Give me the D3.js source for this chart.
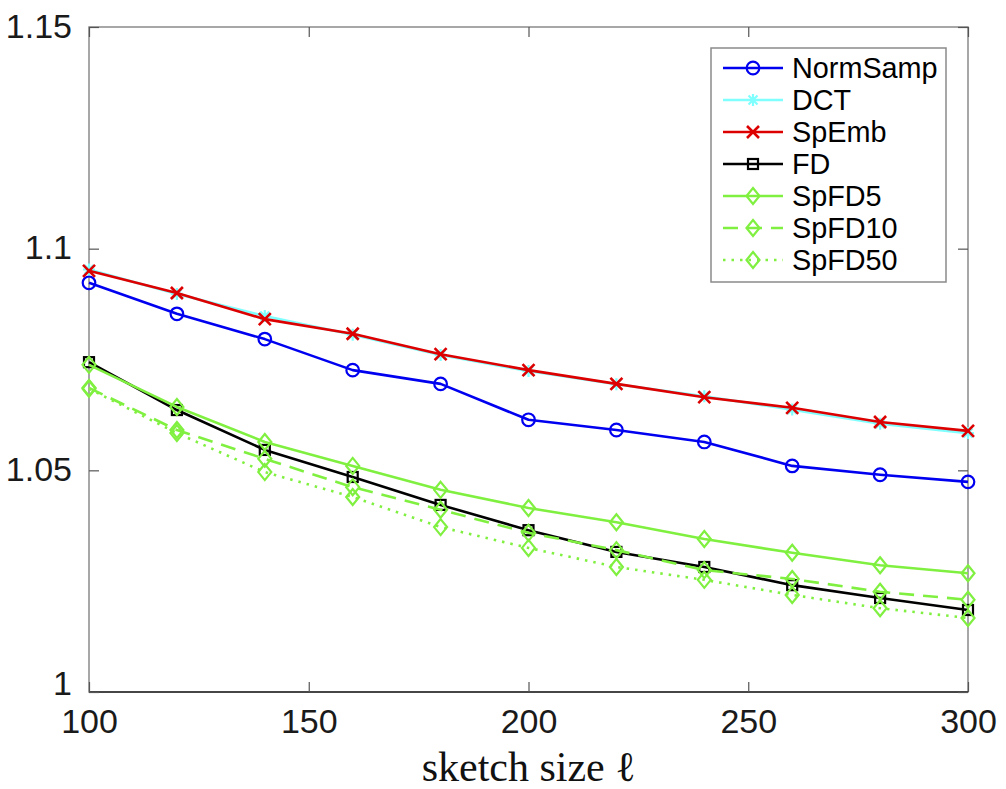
<!DOCTYPE html>
<html><head><meta charset="utf-8">
<script src="https://cdn.jsdelivr.net/npm/d3@7"></script>
<style>body{margin:0;background:#fff}</style>
</head><body><svg id="c" width="1006" height="789"></svg>
<script>
const sketchSizes = [100,120,140,160,180,200,220,240,260,280,300];
const normSamp = [1.0923,1.0853,1.0796,1.0726,1.0695,1.0614,1.0591,1.0564,1.0510,1.0490,1.0474];
const dct      = [1.0953,1.0898,1.0848,1.0806,1.0760,1.0724,1.0694,1.0667,1.0637,1.0605,1.0584];
const spEmb    = [1.0950,1.0900,1.0841,1.0808,1.0762,1.0726,1.0695,1.0665,1.0641,1.0609,1.0589];
const fd       = [1.0744,1.0636,1.0546,1.0485,1.0422,1.0365,1.0316,1.0282,1.0241,1.0212,1.0185];
const spFD5    = [1.0738,1.0643,1.0564,1.0510,1.0456,1.0415,1.0383,1.0345,1.0314,1.0286,1.0268];
const spFD10   = [1.0686,1.0591,1.0526,1.0462,1.0411,1.0359,1.0320,1.0275,1.0255,1.0226,1.0208];
const spFD50   = [1.0684,1.0584,1.0496,1.0440,1.0372,1.0325,1.0282,1.0253,1.0219,1.0189,1.0167];
const xTicks = [100,150,200,250,300];
const yTicks = [1,1.05,1.1,1.15];
const yTickLabels = ["1","1.05","1.1","1.15"];
const xTitle = "sketch size ℓ";

const series = [
  {name:"NormSamp", values:normSamp, color:"#0000f0", marker:"circle", dash:null},
  {name:"DCT", values:dct, color:"#80ffff", marker:"asterisk", dash:null},
  {name:"SpEmb", values:spEmb, color:"#dd0000", marker:"x", dash:null},
  {name:"FD", values:fd, color:"#000000", marker:"square", dash:null},
  {name:"SpFD5", values:spFD5, color:"#80f040", marker:"diamond", dash:null},
  {name:"SpFD10", values:spFD10, color:"#80f040", marker:"diamond", dash:"15,9"},
  {name:"SpFD50", values:spFD50, color:"#80f040", marker:"diamond", dash:"2.5,6"}
];

const L=89,R=968,T=27,B=692;
const svg=d3.select("#c");
const x=d3.scaleLinear().domain([100,300]).range([L,R]);
const y=d3.scaleLinear().domain([1,1.15]).range([B,T]);
const font="'Liberation Sans', Arial, Helvetica, sans-serif";

// frame
svg.append("rect").attr("x",L).attr("y",T).attr("width",R-L).attr("height",B-T)
  .attr("fill","none").attr("stroke","#8a8a8a").attr("stroke-width",1.5);
svg.append("line").attr("x1",L).attr("x2",R).attr("y1",B).attr("y2",B).attr("stroke","#262626").attr("stroke-width",1.5);

// axes via d3
const ax=svg.append("g").attr("transform",`translate(0,${B})`)
  .call(d3.axisBottom(x).tickValues(xTicks).tickSize(-10).tickPadding(18).tickFormat(d3.format("d")));
const axTop=svg.append("g").attr("transform",`translate(0,${T})`)
  .call(d3.axisTop(x).tickValues(xTicks).tickSize(-10).tickFormat(""));
const ay=svg.append("g").attr("transform",`translate(${L},0)`)
  .call(d3.axisLeft(y).tickValues(yTicks).tickSize(-10).tickPadding(17).tickFormat((d,i)=>yTickLabels[i]));
const ayR=svg.append("g").attr("transform",`translate(${R},0)`)
  .call(d3.axisRight(y).tickValues(yTicks).tickSize(-10).tickFormat(""));
[ax,axTop,ay,ayR].forEach(g=>{
  g.select(".domain").remove();
  g.selectAll(".tick line").attr("stroke","#555").attr("stroke-width",1.2);
  g.selectAll("text").attr("font-family",font).attr("font-size",34).attr("fill","#1a1a1a");
});
ax.selectAll("text").attr("dy","0.68em");
ay.selectAll("text").attr("dy",(d,i)=>i===0?"0.08em":"0.3em");

// x title
svg.append("text").attr("x",(L+R)/2).attr("y",781).attr("text-anchor","middle")
  .attr("font-family","'Liberation Serif','DejaVu Serif',serif").attr("font-size",42).attr("fill","#111").text(xTitle);

function drawMarker(g,type,cx,cy,color){
  const sw=2.2;
  if(type==="circle") g.append("circle").attr("cx",cx).attr("cy",cy).attr("r",6.3).attr("fill","none").attr("stroke",color).attr("stroke-width",sw);
  else if(type==="square") g.append("rect").attr("x",cx-5).attr("y",cy-5).attr("width",10).attr("height",10).attr("fill","none").attr("stroke",color).attr("stroke-width",sw);
  else if(type==="diamond") g.append("path").attr("d",`M${cx},${cy-8}L${cx+6.5},${cy}L${cx},${cy+8}L${cx-6.5},${cy}Z`).attr("fill","none").attr("stroke",color).attr("stroke-width",sw);
  else if(type==="x") g.append("path").attr("d",`M${cx-6},${cy-6}L${cx+6},${cy+6}M${cx-6},${cy+6}L${cx+6},${cy-6}`).attr("stroke",color).attr("stroke-width",2.6);
  else if(type==="asterisk") g.append("path").attr("d",`M${cx-6},${cy}L${cx+6},${cy}M${cx},${cy-6}L${cx},${cy+6}M${cx-4.5},${cy-4.5}L${cx+4.5},${cy+4.5}M${cx-4.5},${cy+4.5}L${cx+4.5},${cy-4.5}`).attr("stroke",color).attr("stroke-width",2.2);
}

const line=d3.line().x(d=>x(d[0])).y(d=>y(d[1]));
const plot=svg.append("g");
series.forEach(s=>{
  const pts=sketchSizes.map((v,i)=>[v,s.values[i]]);
  const g=plot.append("g");
  g.append("path").attr("d",line(pts)).attr("fill","none").attr("stroke",s.color)
    .attr("stroke-width",2.6).attr("stroke-dasharray",s.dash).attr("stroke-linejoin","round");
  pts.forEach(p=>drawMarker(g,s.marker,x(p[0]),y(p[1]),s.color));
});

// legend
const lg=svg.append("g");
lg.append("rect").attr("x",711).attr("y",48).attr("width",235).attr("height",234)
  .attr("fill","#fff").attr("stroke","#8a8a8a").attr("stroke-width",1.5);
series.forEach((s,i)=>{
  const cy=68+i*32;
  const g=lg.append("g");
  g.append("line").attr("x1",723).attr("x2",783).attr("y1",cy).attr("y2",cy).attr("stroke",s.color)
    .attr("stroke-width",2.6).attr("stroke-dasharray",s.dash);
  drawMarker(g,s.marker,753,cy,s.color);
  g.append("text").attr("x",792).attr("y",cy).attr("dy","0.36em").attr("font-family",font)
    .attr("font-size",28.8).attr("fill","#000").text(s.name);
});
</script></body></html>
